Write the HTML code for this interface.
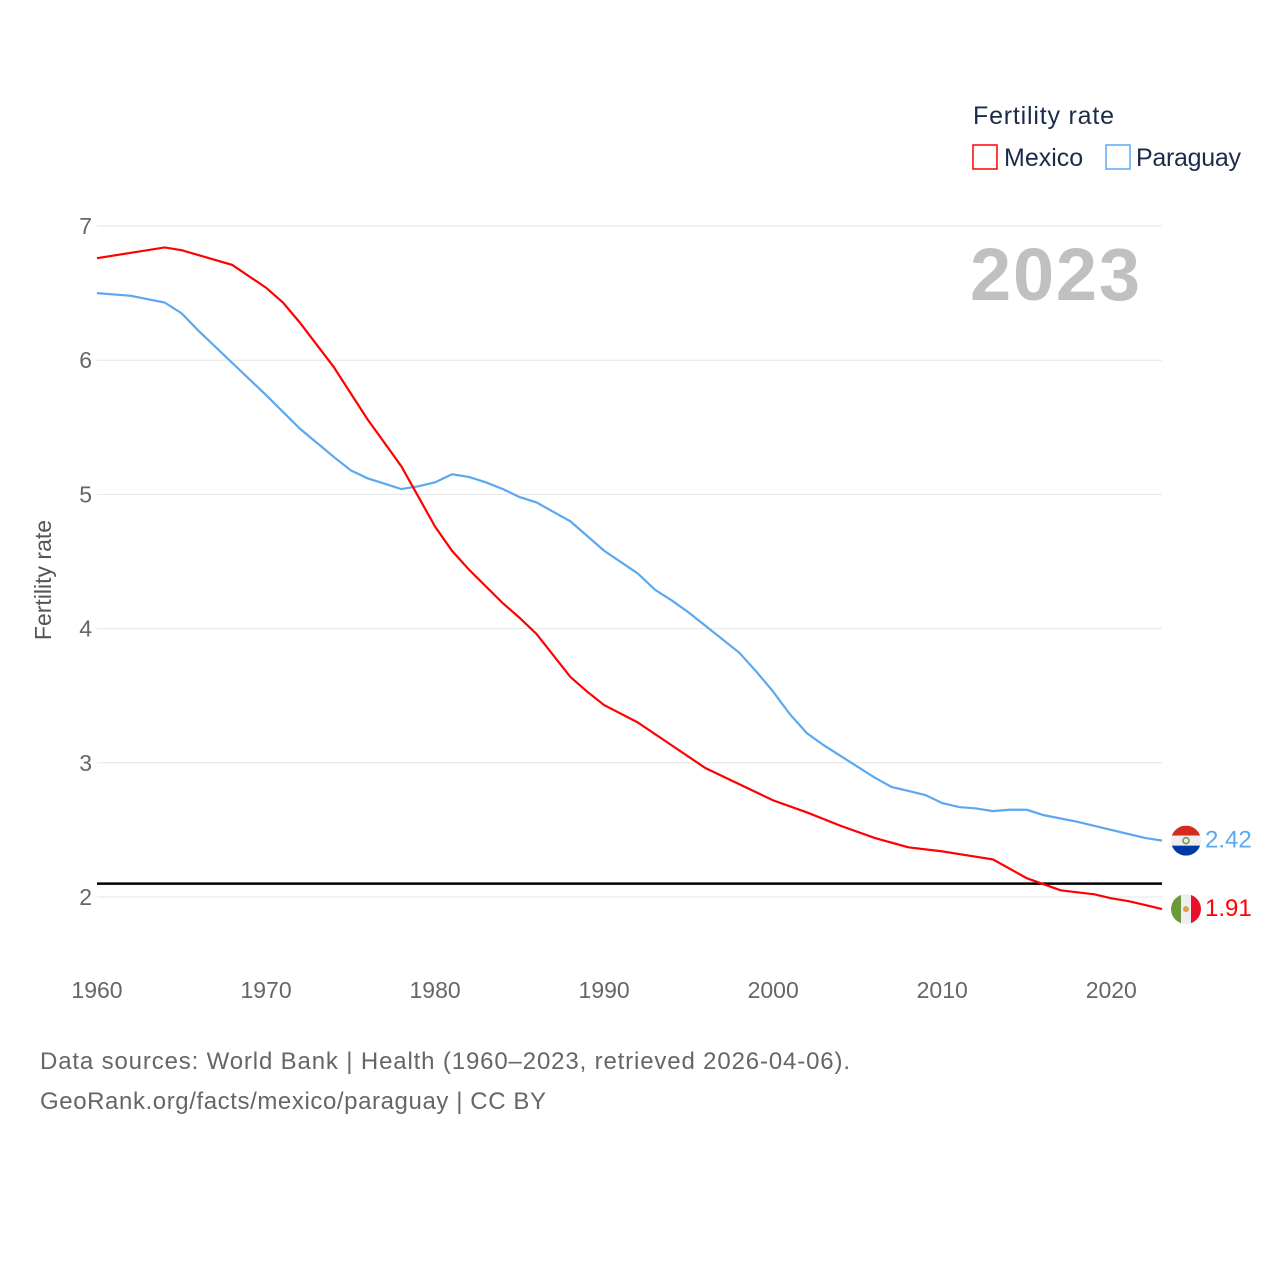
<!DOCTYPE html>
<html><head><meta charset="utf-8"><style>
body{margin:0;background:#fff;font-family:"Liberation Sans",sans-serif}
svg text{font-family:"Liberation Sans",sans-serif}
</style></head><body>
<svg id="chart" width="1280" height="1280">
<text x="973" y="124" font-size="25" fill="#1c2b4a" textLength="141">Fertility rate</text>
<rect x="973" y="145" width="24" height="24" fill="none" stroke="#f00" stroke-width="1.5"/>
<text x="1004" y="166" font-size="25" fill="#1c2b4a">Mexico</text>
<rect x="1106" y="145" width="24" height="24" fill="none" stroke="#5ba8f0" stroke-width="1.5"/>
<text x="1136" y="166" font-size="25" fill="#1c2b4a" textLength="105">Paraguay</text>
<text x="1140" y="300" font-size="74" font-weight="bold" fill="#c0c0c0" text-anchor="end" textLength="170">2023</text>
<text transform="translate(51,580) rotate(-90)" font-size="23" fill="#555" text-anchor="middle">Fertility rate</text>
<g id="grid"></g><g id="series"></g>
<text x="40" y="1069" font-size="24" fill="#666" textLength="810">Data sources: World Bank | Health (1960–2023, retrieved 2026-04-06).</text>
<text x="40" y="1109" font-size="24" fill="#666" textLength="506">GeoRank.org/facts/mexico/paraguay | CC BY</text>
</svg>
<script>
const yTicks=[2,3,4,5,6,7];
const xTicks=[1960,1970,1980,1990,2000,2010,2020];
const mexYears=[1960,1964,1965,1968,1970,1971,1972,1974,1976,1978,1980,1981,1982,1984,1985,1986,1988,1989,1990,1992,1994,1996,1998,2000,2002,2004,2006,2008,2010,2011,2013,2015,2017,2019,2020,2021,2023];
const mexVals=[6.76,6.84,6.82,6.71,6.54,6.43,6.28,5.95,5.56,5.21,4.76,4.58,4.44,4.19,4.08,3.96,3.64,3.53,3.43,3.30,3.13,2.96,2.84,2.72,2.63,2.53,2.44,2.37,2.34,2.32,2.28,2.14,2.05,2.02,1.99,1.97,1.91];
const parYears=[1960,1962,1964,1965,1966,1968,1970,1972,1974,1975,1976,1978,1979,1980,1981,1982,1983,1984,1985,1986,1988,1989,1990,1992,1993,1994,1995,1996,1998,1999,2000,2001,2002,2003,2004,2005,2006,2007,2008,2009,2010,2011,2012,2013,2014,2015,2016,2018,2020,2022,2023];
const parVals=[6.50,6.48,6.43,6.35,6.22,5.98,5.74,5.49,5.28,5.18,5.12,5.04,5.06,5.09,5.15,5.13,5.09,5.04,4.98,4.94,4.80,4.69,4.58,4.41,4.29,4.21,4.12,4.02,3.82,3.68,3.53,3.36,3.22,3.13,3.05,2.97,2.89,2.82,2.79,2.76,2.70,2.67,2.66,2.64,2.65,2.65,2.61,2.56,2.50,2.44,2.42];
const threshold=2.1;
const X=v=>97+(v-1960)*(1162-97)/63;
const Y=v=>897-(v-2)*(897-226)/5;
const NS="http://www.w3.org/2000/svg";
const grid=document.getElementById('grid'),ser=document.getElementById('series');
function mk(t,a,p){const e=document.createElementNS(NS,t);for(const k in a)e.setAttribute(k,a[k]);p.appendChild(e);return e;}
yTicks.forEach(t=>{
 const l=mk('line',{x1:97,x2:1162,y1:Y(t),y2:Y(t),stroke:'#e6e6e6','stroke-width':1},grid);
 
 
 const tx=mk('text',{x:92,y:Y(t)+8,'font-size':23,fill:'#666','text-anchor':'end'},grid);tx.textContent=t;
 
 
});
xTicks.forEach(t=>{
 const tx=mk('text',{x:X(t),y:998,'font-size':23,fill:'#666','text-anchor':'middle'},grid);tx.textContent=t;
 
 
});
const th=mk('line',{x1:97,x2:1162,y1:Y(threshold),y2:Y(threshold),stroke:'#000','stroke-width':2.5},ser);


function line(xs,vs,c,name){
 const p=mk('polyline',{points:xs.map((x,i)=>X(x)+','+Y(vs[i])).join(' '),fill:'none',stroke:c,'stroke-width':2.2},ser);
 
 
}
line(parYears,parVals,'#5ba8f0','paraguay-line');
line(mexYears,mexVals,'#f00','mexico-line');
function flag(v,c,label,name,kind){
 const cx=1186,cy=Y(v);
 const g=mk('g',{},ser);
 
 
 const cp=mk('clipPath',{id:'cp'+name},g);mk('circle',{cx,cy,r:15},cp);
 const gg=mk('g',{'clip-path':'url(#cp'+name+')'},g);
 if(kind==='py'){mk('rect',{x:cx-15,y:cy-15,width:30,height:10,fill:'#d52b1e'},gg);mk('rect',{x:cx-15,y:cy-5,width:30,height:10,fill:'#eee'},gg);mk('rect',{x:cx-15,y:cy+5,width:30,height:10,fill:'#0038a8'},gg);mk('circle',{cx,cy,r:3,fill:'none',stroke:'#6a9a3a','stroke-width':1.5},gg);}
 else{mk('rect',{x:cx-15,y:cy-15,width:10,height:30,fill:'#6a9a3a'},gg);mk('rect',{x:cx-5,y:cy-15,width:10,height:30,fill:'#eee'},gg);mk('rect',{x:cx+5,y:cy-15,width:10,height:30,fill:'#e8112d'},gg);mk('circle',{cx,cy,r:3,fill:'#d9a24a'},gg);}
 const t=mk('text',{x:1205,y:cy+7,'font-size':24,fill:c},ser);t.textContent=label;
 
 
}
flag(parVals[parVals.length-1],'#5ba8f0',parVals[parVals.length-1].toFixed(2),'paraguay','py');
flag(mexVals[mexVals.length-1],'#f00',mexVals[mexVals.length-1].toFixed(2),'mexico','mx');
</script>
</body></html>
